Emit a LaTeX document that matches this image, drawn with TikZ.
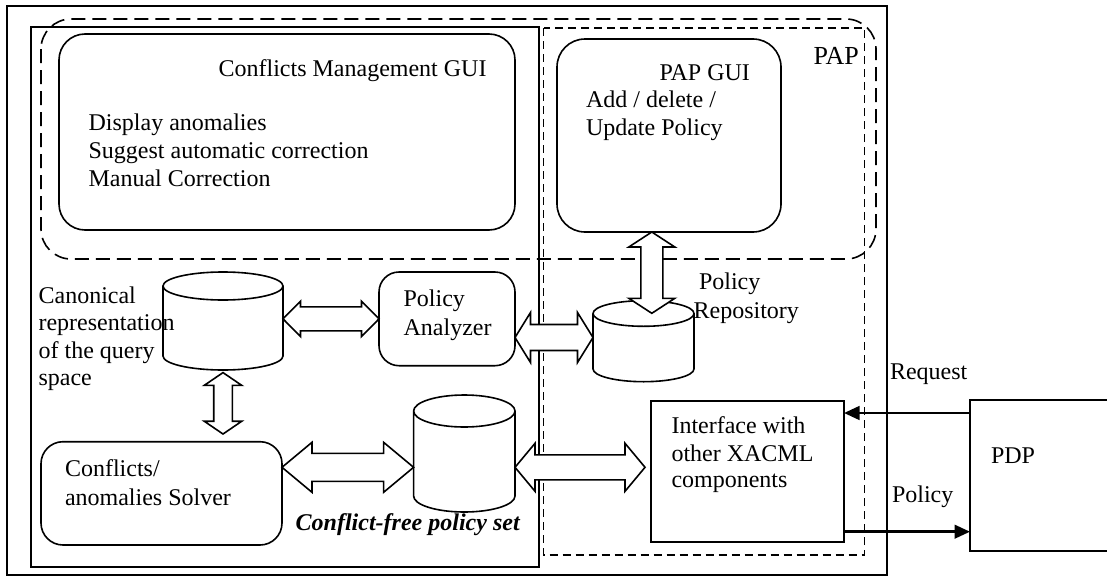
\documentclass[tikz,border=0pt]{standalone}
\usepackage{fontspec}
\setmainfont{Liberation Serif}
\usetikzlibrary{calc,arrows.meta}

% Hollow double-headed block arrow between two tips.
% #1 tip, #2 tip, #3 shaft half-width, #4 head half-width, #5 head length
\newcommand\fatarrow[5]{%
  \coordinate (fa1) at ($(#1)!#5!(#2)$);
  \coordinate (fa2) at ($(#2)!#5!(#1)$);
  \draw[fatline] (#1) -- ($(fa1)!#4!90:(#2)$) -- ($(fa1)!#3!90:(#2)$)
    -- ($(fa2)!#3!-90:(#1)$) -- ($(fa2)!#4!-90:(#1)$) -- (#2)
    -- ($(fa2)!#4!90:(#1)$) -- ($(fa2)!#3!90:(#1)$)
    -- ($(fa1)!#3!-90:(#2)$) -- ($(fa1)!#4!-90:(#2)$) -- cycle;
}

% Upright database cylinder drawn over a named rectangular node.
% #1 node name, #2 vertical radius of the end ellipses
\newcommand\drawcyl[2]{%
  \filldraw[cylline] let \p1=(#1.north west), \p2=(#1.south east),
      \n1={(\x2-\x1)/2} in
    (\x1,\y1-#2) -- (\x1,\y2+#2)
      arc[start angle=180, end angle=360, x radius=\n1, y radius=#2]
      -- (\x2,\y1-#2)
      arc[start angle=0, end angle=180, x radius=\n1, y radius=#2] -- cycle
    (\x1+\n1,\y1-#2) ellipse[x radius=\n1, y radius=#2];
}

\tikzset{
  x=0.5pt, y=-0.5pt,
  every node/.style={inner sep=0pt, outer sep=0pt},
  rbox/.style={draw, line width=0.8pt, fill=white, rounded corners=#1},
  rbox/.default=10pt,
  sbox/.style={draw, line width=0.8pt, fill=white},
  slot/.style={},
  cylline/.style={line width=0.8pt, fill=white},
  fatline/.style={line width=0.8pt, fill=white, line join=miter},
  txt/.style={anchor=base west, font=\fontsize{12}{14}\selectfont},
  flow/.style={line width=1.3pt, -{Triangle[length=7.75pt,width=6.8pt]}},
  frame/.style={line width=1.1pt},
  inner frame/.style={line width=0.9pt},
  papzone/.style={line width=0.8pt, dash pattern=on 7pt off 3.5pt, rounded corners=15pt},
  papcore/.style={line width=0.6pt, dash pattern=on 4pt off 2.5pt},
}

\begin{document}
\begin{tikzpicture}
\useasboundingbox (0,0) rectangle (1107,578);

% containers
\draw[frame] (7,6) rectangle (887,575);
\draw[inner frame] (31,27) rectangle (538.7,566.7);
\draw[papzone] (41,19) rectangle (876,259);
\draw[papcore] (543.7,28) rectangle (864.7,555);

% boxes
\node[rbox=13pt, minimum width=228pt, minimum height=98pt] (cmg) at (287,132) {};
\node[rbox=14pt, minimum width=112pt, minimum height=96.5pt] (papgui) at (669,135.5) {};
\node[rbox=10pt, minimum width=68pt, minimum height=46.85pt] (pa) at (447,318.85) {};
\node[rbox=11pt, minimum width=120.5pt, minimum height=51.65pt] (solver) at (161.5,493.35) {};
\node[sbox, minimum width=96.5pt, minimum height=70.65pt] (iface) at (747.5,471.35) {};
\node[sbox, minimum width=72.5pt, minimum height=75.5pt] (pdp) at (1042.5,475.5) {};

% repositories
\node[slot, minimum width=60pt, minimum height=49pt] (cyl1) at (223,321) {};
\node[slot, minimum width=50.7pt, minimum height=58.5pt] (cyl2) at (464.3,453.5) {};
\node[slot, minimum width=50.5pt, minimum height=40.5pt] (repo) at (643.5,341.2) {};
\drawcyl{cyl1}{7pt}
\drawcyl{cyl2}{8pt}
\drawcyl{repo}{6.4pt}

% rows and columns used by the block arrows
\coordinate (ar2) at (0,337.5);
\coordinate (ar4) at (0,467.3);
\coordinate (ar6) at (651.8,0);
\coordinate (rq) at (0,413);
\coordinate (po) at (0,531.7);

% block arrows
\fatarrow{cyl1.east |- pa.west}{pa.west}{6pt}{8.85pt}{8.75pt}
\fatarrow{pa.east |- ar2}{repo.west |- ar2}{6.5pt}{12.5pt}{7.75pt}
\fatarrow{$(cyl1.south)+(0,-1.3pt)$}{$(solver.north -| cyl1.south)+(0,3.85pt)$}{4.65pt}{9.4pt}{6.4pt}
\fatarrow{solver.east |- ar4}{cyl2.west |- ar4}{7pt}{12.5pt}{15pt}
\fatarrow{cyl2.east |- ar4}{$(iface.west |- ar4)+(-3pt,0)$}{6.25pt}{12pt}{10pt}
\fatarrow{papgui.south -| ar6}{$(repo.north -| ar6)+(0,-6.3pt)$}{5.5pt}{11.5pt}{7.5pt}

% request / policy flows
\draw[flow] (pdp.west |- rq) -- (iface.east |- rq);
\draw[flow] (iface.east |- po) -- (pdp.west |- po);

% labels
\node[txt] (tcmg) at (218.6,76) {Conflicts Management GUI};
\node[txt] (tcmg1) at (88.6,130.7) {Display anomalies};
\node[txt] (tcmg2) at (88.6,158) {Suggest automatic correction};
\node[txt] (tcmg3) at (88.6,186.7) {Manual Correction};

\node[txt] (tpapgui) at (659.5,80) {PAP GUI};
\node[txt] (tpap1) at (586,107) {Add / delete /};
\node[txt] (tpap2) at (586,135) {Update Policy};
\node[txt, font=\fontsize{13}{15}\selectfont] (tpap) at (813.6,64) {PAP};

\node[txt] (tcan1) at (38.6,303) {Canonical};
\node[txt] (tcan2) at (38.6,330.7) {representation};
\node[txt] (tcan3) at (38.6,358) {of the query};
\node[txt] (tcan4) at (38.6,385.5) {space};

\node[txt] (tpa1) at (403.6,306.7) {Policy};
\node[txt] (tpa2) at (403.6,335) {Analyzer};

\node[txt] (tsol1) at (65,476.7) {Conflicts/};
\node[txt] (tsol2) at (65,505.7) {anomalies Solver};

\node[txt, font=\fontsize{12}{14}\selectfont\bfseries\itshape] (tcfs) at (295.7,530.7) {Conflict-free policy set};

\node[txt] (trep1) at (699,289.5) {Policy};
\node[txt] (trep2) at (693.6,318) {Repository};

\node[txt] (tif1) at (671.5,433.3) {Interface with};
\node[txt] (tif2) at (671.5,461) {other XACML};
\node[txt] (tif3) at (671.5,487.5) {components};

\node[txt] (treq) at (890,379.3) {Request};
\node[txt] (tpol) at (892,502.7) {Policy};
\node[txt] (tpdp) at (991,463.3) {PDP};
\end{tikzpicture}
\end{document}
